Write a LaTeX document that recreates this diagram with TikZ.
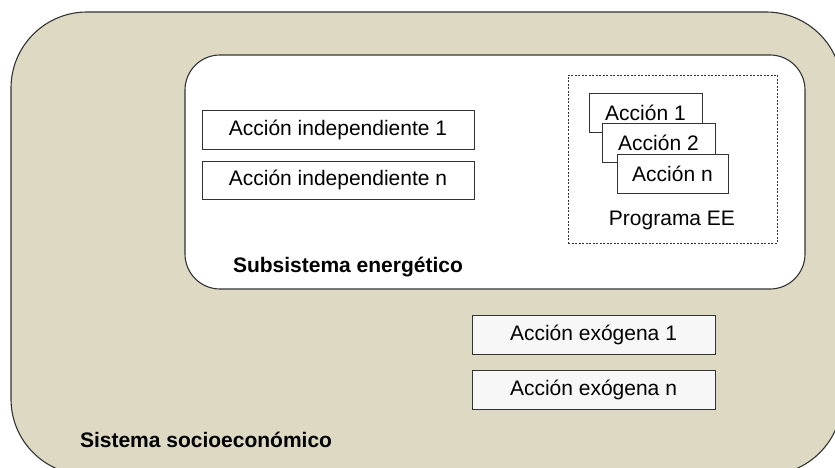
\documentclass[tikz,border=0pt]{standalone}
\usepackage{fontspec}
\setmainfont{Liberation Sans}
\definecolor{beige}{HTML}{DDD9C3}
\definecolor{edge}{HTML}{333333}
\tikzset{
  every node/.style={font=\fontsize{21}{25}\selectfont, inner sep=0pt, outer sep=0pt},
  actbox/.style={draw=edge, line width=0.9pt, fill=white, rectangle},
  exobox/.style={draw=edge, line width=0.9pt, fill=white!94!gray, rectangle},
  title/.style={font=\fontsize{21}{25}\selectfont\bfseries},
}
\begin{document}
\begin{tikzpicture}[x=1pt,y=-1pt]
\useasboundingbox (0,0) rectangle (835,468);
\begin{scope}
\clip (0,0) rectangle (835,468);
\node[draw=edge, line width=1.1pt, fill=beige, rounded corners=76pt, minimum width=831pt, minimum height=463pt] (sis) at (426.5,243.5) {};
\end{scope}
\node[draw=edge, line width=1.1pt, fill=white, rounded corners=35pt, minimum width=620pt, minimum height=234pt] (sub) at (495,172) {};
\node[actbox, minimum width=272pt, minimum height=39pt] (ind1) at (338,129.5) {Acción independiente 1};
\node[actbox, minimum width=272pt, minimum height=38pt] (indn) at (338,180) {Acción independiente n};
\node[draw=edge, line width=0.7pt, dashed, dash pattern=on 2pt off 1.5pt, minimum width=209pt, minimum height=168pt] (prog) at (672.5,159) {};
\node[actbox, minimum width=113pt, minimum height=39pt] (a1) at (645.5,112.5) {Acción 1};
\node[actbox, minimum width=113pt, minimum height=39pt] (a2) at (658.5,142.5) {Acción 2};
\node[actbox, minimum width=111pt, minimum height=39pt] (an) at (672.5,173.5) {Acción n};
\node (progl) at (672,220) {Programa EE};
\node[title] (subl) at (348,267) {Subsistema energético};
\node[exobox, minimum width=243pt, minimum height=39pt] (exo1) at (593.5,334.5) {Acción exógena 1};
\node[exobox, minimum width=243pt, minimum height=39pt] (exon) at (593.5,389.5) {Acción exógena n};
\node[title, anchor=west] (sisl) at (80,440) {Sistema socioeconómico};
\end{tikzpicture}
\end{document}
